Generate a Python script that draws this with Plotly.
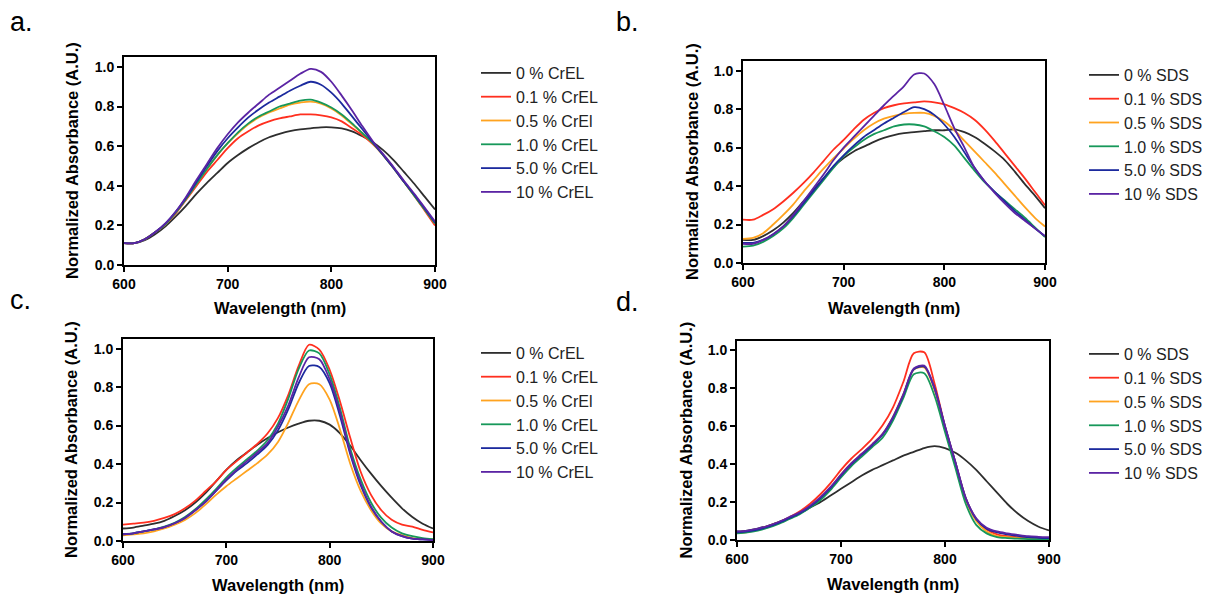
import plotly.graph_objects as go

# Wavelength grid (nm)
wavelength = [600, 610, 620, 630, 640, 650, 660, 670, 680, 690, 700, 710, 720, 730, 740, 750,
              760, 770, 780, 790, 800, 810, 820, 830, 840, 850, 860, 870, 880, 890, 900]

colors = ["#2e2e2e", "#ff2f1f", "#ffa31f", "#17985a", "#1c2a9e", "#5b24a4"]

# ---- panel a: CrEL ----
labels_a = ["0 % CrEL", "0.1 % CrEL", "0.5 % CrEl", "1.0 % CrEL", "5.0 % CrEL", "10 % CrEL"]
a_0 = [.11, .11, .125, .155, .195, .245, .30, .36, .415, .465, .515, .555, .59, .62, .645, .662,
       .676, .685, .69, .695, .695, .69, .675, .65, .62, .58, .53, .47, .41, .345, .28]
a_01 = [.11, .11, .13, .165, .205, .26, .33, .40, .47, .53, .59, .64, .675, .705, .725, .74,
        .75, .76, .76, .755, .745, .725, .69, .655, .61, .555, .49, .42, .35, .275, .20]
a_05 = [.11, .11, .13, .165, .205, .265, .335, .41, .485, .555, .615, .665, .71, .745, .77, .79,
        .81, .82, .825, .815, .79, .755, .71, .665, .615, .555, .49, .42, .35, .28, .21]
a_1 = [.11, .11, .13, .165, .205, .265, .335, .41, .485, .555, .615, .67, .715, .75, .775, .80,
       .815, .83, .835, .82, .795, .76, .715, .665, .615, .555, .49, .42, .35, .28, .21]
a_5 = [.11, .11, .13, .165, .21, .27, .34, .42, .50, .575, .64, .695, .745, .785, .82, .85,
       .88, .905, .925, .91, .87, .815, .75, .685, .62, .555, .49, .42, .355, .285, .215]
a_10 = [.11, .11, .13, .165, .21, .27, .345, .43, .51, .59, .66, .72, .77, .815, .86, .895,
        .93, .965, .99, .975, .925, .855, .78, .70, .625, .56, .495, .425, .36, .29, .22]

# ---- panel b: SDS ----
labels_b = ["0 % SDS", "0.1 % SDS", "0.5 % SDS", "1.0 % SDS", "5.0 % SDS", "10 % SDS"]
b_0 = [.12, .12, .14, .17, .21, .26, .32, .38, .44, .50, .545, .58, .605, .63, .65, .665,
       .675, .68, .685, .69, .69, .695, .68, .655, .62, .58, .535, .475, .41, .35, .285]
b_01 = [.225, .225, .25, .28, .32, .365, .415, .47, .53, .59, .64, .695, .745, .78, .805, .82,
        .83, .835, .84, .835, .825, .805, .78, .745, .695, .635, .57, .505, .44, .37, .30]
b_05 = [.125, .13, .155, .20, .25, .305, .37, .43, .49, .545, .595, .645, .69, .725, .75, .765,
        .775, .78, .78, .765, .735, .69, .635, .58, .525, .47, .41, .35, .29, .235, .19]
b_1 = [.085, .09, .11, .14, .18, .235, .30, .365, .43, .495, .555, .60, .64, .67, .69, .71,
       .72, .72, .71, .685, .655, .61, .545, .48, .42, .37, .325, .28, .235, .185, .135]
b_5 = [.105, .105, .12, .15, .19, .245, .31, .375, .44, .505, .56, .61, .655, .69, .725, .755,
       .785, .81, .80, .77, .72, .655, .575, .495, .425, .37, .32, .27, .225, .18, .14]
b_10 = [.10, .10, .12, .15, .19, .25, .32, .39, .46, .535, .60, .655, .71, .765, .82, .87,
        .92, .98, .985, .93, .82, .70, .60, .495, .425, .365, .31, .26, .22, .18, .14]

# ---- panel c: CrEL ----
labels_c = ["0 % CrEL", "0.1 % CrEL", "0.5 % CrEl", "1.0 % CrEL", "5.0 % CrEL", "10 % CrEL"]
c_0 = [.065, .07, .08, .09, .105, .13, .16, .20, .25, .31, .37, .42, .46, .50, .535, .565,
       .59, .61, .625, .625, .605, .56, .495, .42, .35, .285, .225, .17, .125, .09, .065]
c_01 = [.085, .09, .095, .105, .12, .14, .17, .21, .26, .31, .37, .415, .46, .505, .56, .64,
        .76, .91, 1.02, .995, .89, .725, .535, .36, .24, .16, .11, .085, .075, .058, .045]
c_05 = [.03, .035, .04, .05, .065, .085, .11, .145, .19, .24, .285, .325, .365, .405, .45, .515,
        .615, .73, .815, .815, .735, .58, .40, .26, .16, .09, .05, .03, .015, .01, .01]
c_1 = [.037, .04, .05, .06, .075, .095, .125, .165, .215, .27, .33, .38, .425, .47, .525, .61,
       .74, .895, .99, .975, .865, .69, .48, .32, .20, .12, .07, .04, .025, .015, .01]
c_5 = [.035, .04, .05, .06, .072, .092, .12, .16, .205, .26, .315, .365, .405, .45, .50, .575,
       .685, .82, .91, .905, .82, .65, .45, .29, .175, .10, .05, .025, .012, .008, .005]
c_10 = [.035, .04, .05, .06, .072, .092, .12, .16, .205, .26, .32, .37, .415, .46, .51, .595,
        .705, .85, .955, .945, .84, .67, .46, .30, .18, .10, .05, .025, .012, .008, .005]

# ---- panel d: SDS ----
labels_d = ["0 % SDS", "0.1 % SDS", "0.5 % SDS", "1.0 % SDS", "5.0 % SDS", "10 % SDS"]
d_0 = [.045, .05, .06, .075, .095, .115, .14, .17, .20, .235, .27, .305, .34, .37, .395, .42,
       .445, .465, .485, .495, .485, .46, .42, .37, .31, .25, .19, .14, .10, .07, .05]
d_01 = [.04, .045, .058, .073, .093, .12, .15, .19, .24, .30, .37, .43, .48, .535, .605, .70,
        .835, .985, .99, .825, .60, .41, .22, .11, .055, .03, .02, .015, .01, .007, .005]
d_05 = [.037, .042, .053, .068, .088, .113, .14, .175, .22, .275, .345, .405, .455, .505, .56, .65,
        .77, .90, .91, .79, .59, .40, .21, .10, .045, .02, .015, .01, .008, .006, .005]
d_1 = [.035, .04, .05, .065, .085, .11, .135, .17, .21, .265, .33, .39, .44, .49, .54, .63,
       .75, .875, .88, .76, .57, .38, .19, .08, .035, .015, .01, .007, .005, .005, .005]
d_5 = [.04, .045, .055, .07, .09, .115, .14, .175, .22, .275, .34, .40, .45, .50, .555, .645,
       .765, .90, .915, .80, .60, .41, .22, .11, .06, .04, .03, .022, .015, .012, .01]
d_10 = [.045, .05, .06, .075, .095, .12, .145, .18, .225, .28, .345, .405, .455, .505, .56, .65,
        .77, .905, .92, .80, .60, .41, .22, .115, .065, .045, .035, .027, .02, .017, .015]

panels = [
    ("x", "y", "legend", labels_a, [a_0, a_01, a_05, a_1, a_5, a_10]),
    ("x2", "y2", "legend2", labels_b, [b_0, b_01, b_05, b_1, b_5, b_10]),
    ("x3", "y3", "legend3", labels_c, [c_0, c_01, c_05, c_1, c_5, c_10]),
    ("x4", "y4", "legend4", labels_d, [d_0, d_01, d_05, d_1, d_5, d_10]),
]

W, H = 1217, 596
FONT = "Liberation Sans, Arial, sans-serif"

fig = go.Figure()
for xa, ya, lg, labels, series in panels:
    for lab, vals, col in zip(labels, series, colors):
        fig.add_trace(go.Scatter(
            x=wavelength, y=vals, name=lab, mode="lines",
            line=dict(color=col, width=1.8, shape="spline", smoothing=0.8),
            xaxis=xa, yaxis=ya, legend=lg, showlegend=True))

def px_dom(a, b):
    return [a / W, b / W]

def py_dom(top, bottom):
    return [1 - bottom / H, 1 - top / H]

frames = {
    "a": (124, 435, 57, 265),
    "b": (743, 1045, 61, 263),
    "c": (123, 433, 339, 541),
    "d": (737, 1049, 341, 540),
}

axis_common = dict(
    showline=True, linecolor="black", linewidth=2, mirror=True,
    ticks="outside", ticklen=5, tickwidth=2, tickcolor="black",
    showgrid=False, zeroline=False, automargin=False,
    tickfont=dict(family=FONT, size=14, color="black", weight="bold"),
)

layout = dict(
    width=W, height=H, margin=dict(l=0, r=0, t=0, b=0, autoexpand=False),
    paper_bgcolor="white", plot_bgcolor="white",
    font=dict(family=FONT, color="black"),
)

names = ["", "2", "3", "4"]
for n, key in zip(names, ["a", "b", "c", "d"]):
    l, r, t, b = frames[key]
    layout["xaxis" + n] = dict(axis_common, domain=px_dom(l, r), range=[600, 900],
                               tickvals=[600, 700, 800, 900], anchor="y" + n)
    layout["yaxis" + n] = dict(axis_common, domain=py_dom(t, b), range=[0, 1.05],
                               tickvals=[0, 0.2, 0.4, 0.6, 0.8, 1.0], tickformat=".1f",
                               anchor="x" + n)

legend_pos = {"legend": (476, 56), "legend2": (1084, 58), "legend3": (476, 336), "legend4": (1084, 337)}
for lg, (lx, ly) in legend_pos.items():
    layout[lg] = dict(x=lx / W, y=1 - ly / H, xanchor="left", yanchor="top",
                      font=dict(family=FONT, size=16, color="#222"),
                      bgcolor="rgba(0,0,0,0)", itemwidth=30, tracegroupgap=0)

fig.update_layout(**layout)

ann = []
# panel letters
for txt, x, y in [("a.", 8, 22), ("b.", 614, 22), ("c.", 8, 300), ("d.", 614, 302)]:
    ann.append(dict(text=txt, x=x / W, y=1 - y / H, xref="paper", yref="paper",
                    xanchor="left", yanchor="middle", showarrow=False,
                    font=dict(family=FONT, size=27, color="black")))
# axis titles
for key, xt_y in [("a", 308), ("b", 308), ("c", 585), ("d", 584)]:
    l, r, t, b = frames[key]
    ann.append(dict(text="Wavelength (nm)", x=(l + r) / 2 / W, y=1 - xt_y / H,
                    xref="paper", yref="paper", xanchor="center", yanchor="middle",
                    showarrow=False, font=dict(family=FONT, size=16.5, color="black", weight="bold")))
for key, yt_x in [("a", 72), ("b", 692), ("c", 71), ("d", 686)]:
    l, r, t, b = frames[key]
    ann.append(dict(text="Normalized Absorbance (A.U.)", x=yt_x / W, y=1 - (t + b) / 2 / H,
                    xref="paper", yref="paper", xanchor="center", yanchor="middle",
                    textangle=-90, showarrow=False,
                    font=dict(family=FONT, size=16.5, color="black", weight="bold")))
fig.update_layout(annotations=ann)

fig.write_html("out.html")
